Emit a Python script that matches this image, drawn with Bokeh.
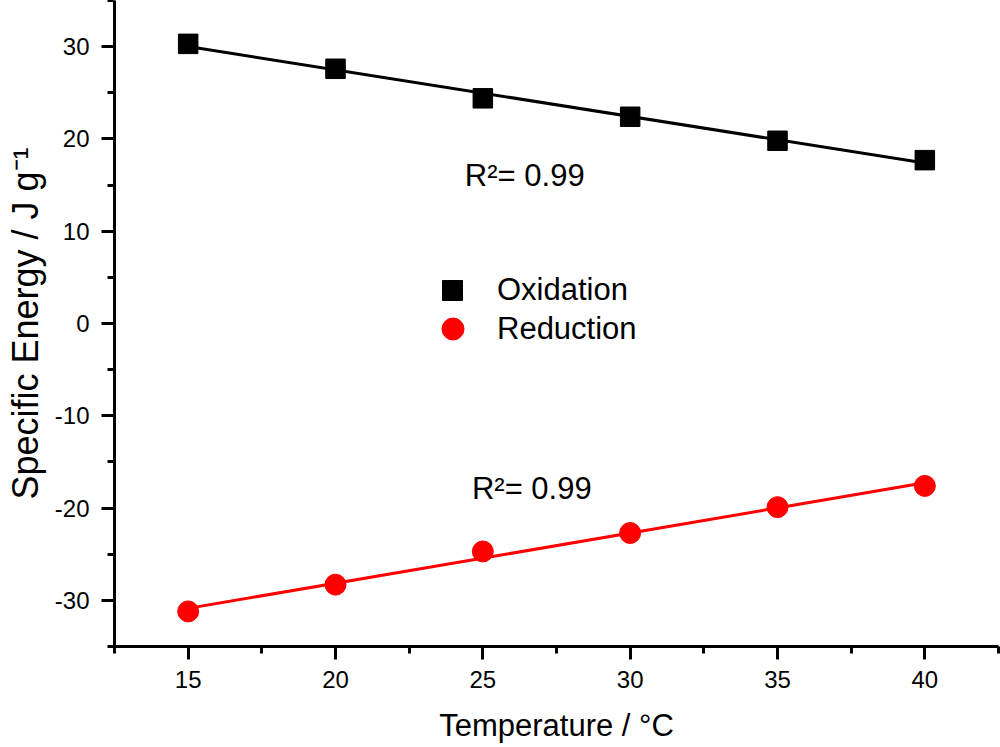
import numpy as np
from bokeh.plotting import figure
from bokeh.models import FixedTicker, Legend, LegendItem, Label, Range1d
from bokeh.embed import file_html
from bokeh.resources import INLINE

# ---- data ----
temperature = [15, 20, 25, 30, 35, 40]
oxidation = [30.3, 27.6, 24.4, 22.4, 19.8, 17.7]
reduction = [-31.2, -28.3, -24.7, -22.7, -19.9, -17.6]
x_ticks = [15, 20, 25, 30, 35, 40]
x_minor = [12.5, 17.5, 22.5, 27.5, 32.5, 37.5, 42.5]
y_ticks = [-30, -20, -10, 0, 10, 20, 30]
y_minor = [-35, -25, -15, -5, 5, 15, 25, 35]
y_tick_labels = ["-30", "-20", "-10", "0", "10", "20", "30"]
r2_text = "R\u00b2= 0.99"
series_names = ["Oxidation", "Reduction"]

FONT = "Liberation Sans"

p = figure(width=1000, height=747, output_backend="svg", toolbar_location=None,
           x_range=Range1d(12.5, 42.5), y_range=Range1d(-35, 35),
           min_border_left=114, min_border_right=2, min_border_top=0,
           min_border_bottom=101)
p.outline_line_color = None
p.xgrid.visible = False
p.ygrid.visible = False
p.background_fill_color = "white"
p.border_fill_color = "white"

for ax, ticks, minor in ((p.xaxis[0], x_ticks, x_minor), (p.yaxis[0], y_ticks, y_minor)):
    ax.ticker = FixedTicker(ticks=ticks, minor_ticks=minor)
    ax.axis_line_width = 3
    ax.axis_line_color = "black"
    ax.major_tick_line_width = 3
    ax.minor_tick_line_width = 3
    ax.major_tick_line_color = "black"
    ax.minor_tick_line_color = "black"
    ax.major_tick_in = 0
    ax.major_tick_out = 13
    ax.minor_tick_in = 0
    ax.minor_tick_out = 7
    ax.major_label_text_font = FONT
    ax.major_label_text_font_size = "24px"
    ax.major_label_text_color = "black"
    ax.axis_label_text_font = FONT
    ax.axis_label_text_font_style = "normal"
    ax.axis_label_text_color = "black"

p.yaxis.major_label_overrides = {t: s for t, s in zip(y_ticks, y_tick_labels)}
p.xaxis.axis_label = "Temperature / \u00b0C"
p.yaxis.axis_label = "Specific Energy / J g\u207b\u00b9"
p.xaxis.axis_label_text_font_size = "31px"
p.yaxis.axis_label_text_font_size = "36px"
p.xaxis.major_label_standoff = 11
p.xaxis.axis_label_standoff = 17
p.yaxis.major_label_standoff = 12
p.yaxis.axis_label_standoff = 6

# linear fit lines
xs = np.array([min(temperature), max(temperature)], dtype=float)
ko, bo = np.polyfit(temperature, oxidation, 1)
kr, br = np.polyfit(temperature, reduction, 1)
p.line(xs, ko * xs + bo, line_color="black", line_width=3)
p.line(xs, kr * xs + br, line_color="red", line_width=3)

r_ox = p.scatter(temperature, oxidation, marker="square", size=19.5,
                 fill_color="black", line_color="black")
r_red = p.scatter(temperature, reduction, marker="circle", size=21,
                  fill_color="red", line_color="red")

common = dict(border_line_color=None, background_fill_alpha=0, padding=0,
              margin=0, label_text_font=FONT, label_text_font_size="31px",
              label_text_color="black")
leg1 = Legend(items=[LegendItem(label=series_names[0], renderers=[r_ox])],
              location=(313, 331), glyph_width=50, glyph_height=50,
              label_height=50, label_standoff=20, **common)
leg2 = Legend(items=[LegendItem(label=series_names[1], renderers=[r_red])],
              location=(311, 290), glyph_width=55, glyph_height=55,
              label_height=55, label_standoff=17, **common)
p.add_layout(leg1, "center")
p.add_layout(leg2, "center")

p.add_layout(Label(x=24.39, y=16.0, text=r2_text, text_font=FONT,
                   text_font_size="31px", text_baseline="middle",
                   text_align="left", text_color="black"))
p.add_layout(Label(x=24.63, y=-17.85, text=r2_text, text_font=FONT,
                   text_font_size="31px", text_baseline="middle",
                   text_align="left", text_color="black"))

open("out.html", "w").write(file_html(p, INLINE))
